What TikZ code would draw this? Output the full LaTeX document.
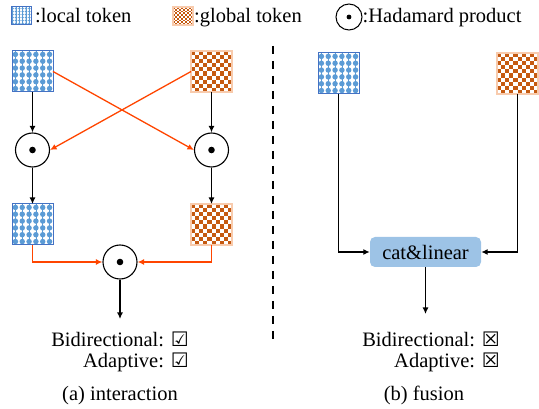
\documentclass[tikz,border=0pt]{standalone}
\usepackage{fontspec}
\setmainfont{Liberation Serif}
\newfontfamily\dejavu{DejaVu Sans}
\usetikzlibrary{arrows.meta}
\definecolor{locblue}{RGB}{68,114,196}
\definecolor{locdot}{RGB}{91,155,213}
\definecolor{globor}{RGB}{197,90,17}
\definecolor{globlight}{RGB}{248,203,173}
\definecolor{redarrow}{RGB}{255,69,0}
\definecolor{boxblue}{RGB}{157,195,230}
\newcommand\boxsym[1]{{\dejavu\fontsize{20}{20}\selectfont #1}}
% pattern of a local token: node name, cell width, cell height
\newcommand\locpattern[3]{%
  \begin{scope}
    \clip (#1.south west) rectangle (#1.north east);
    \begin{scope}[shift={(#1.north west)}, x=#2, y=-#3]
      \foreach \i in {0,...,5}{
        \draw[locdot, line width=0.5pt] (\i+0.5,0) -- (\i+0.5,6);
        \foreach \j in {0,...,5} \fill[locdot] (\i+0.5,\j+0.5) circle[radius=0.4];
      }
    \end{scope}
  \end{scope}
  \draw[locblue, line width=1pt] (#1.south west) rectangle (#1.north east);}
% pattern of a global token: node name, cell width, cell height
\newcommand\globpattern[3]{%
  \begin{scope}
    \clip (#1.south west) rectangle (#1.north east);
    \begin{scope}[shift={(#1.north west)}, x=#2, y=-#3]
      \foreach \i in {0,...,9}{
        \foreach \j in {0,2,...,8} \fill[globor] ({\i},{\j+mod(\i,2)}) rectangle ++(1,1);
      }
    \end{scope}
  \end{scope}
  \draw[globlight, line width=1.2pt] (#1.south west) rectangle (#1.north east);}
\begin{document}
\begin{tikzpicture}[x=1pt,y=-1pt, font=\rmfamily\fontsize{20.5}{24}\selectfont,
 tok/.style 2 args={fill=white, minimum width=#1, minimum height=#2, inner sep=0pt, outer sep=0pt},
 bigtok/.style={tok={41pt}{41pt}},
 hada/.style={circle, draw, line width=1.1pt, minimum size=34pt, inner sep=0pt},
 hadasmall/.style={circle, draw, line width=1pt, minimum size=26pt, inner sep=0pt},
 hdot/.style={fill=black},
 arr/.style={-{Latex[length=6.5pt,width=6pt]}, line width=1.3pt},
 redarr/.style={arr, draw=redarrow},
 catbox/.style={fill=boxblue, rounded corners=5pt, minimum width=111pt, minimum height=30pt, inner sep=0pt},
 txt/.style={inner sep=0pt}
]
\useasboundingbox (0,0) rectangle (539,409);

% legend
\node[tok={20pt}{18pt}] (legl) at (21,16) {};
\locpattern{legl}{3.33pt}{3pt}
\node[txt, anchor=base west] (legltext) at (35,23) {:local token};
\node[tok={20pt}{18pt}] (legg) at (183,16) {};
\globpattern{legg}{2pt}{1.8pt}
\node[txt, anchor=base west] (leggtext) at (194,23) {:global token};
\node[hadasmall] (legh) at (349,17) {};
\fill[hdot] (legh.center) circle (2.4pt);
\node[txt, anchor=base west] (leghtext) at (362.5,23) {:Hadamard product};

% left panel
\node[bigtok] (l1) at (32.5,71.5) {};
\locpattern{l1}{6.83pt}{6.83pt}
\node[bigtok] (g1) at (211.5,71.5) {};
\globpattern{g1}{4.1pt}{4.1pt}
\node[hada] (h1) at (32.5,150) {};
\node[hada] (h2) at (211.5,150) {};
\node[bigtok] (l2) at (32.5,224.5) {};
\locpattern{l2}{6.83pt}{6.83pt}
\node[bigtok] (g2) at (211.5,224.5) {};
\globpattern{g2}{4.1pt}{4.1pt}
\node[hada] (h3) at (120,262) {};
\foreach \n in {h1,h2,h3} \fill[hdot] (\n.center) circle (3.3pt);
\coordinate (o1) at (120,319);

\draw[arr] (l1.south) -- (h1.north);
\draw[arr] (g1.south) -- (h2.north);
\draw[redarr] (l1.east) -- (h2.west);
\draw[redarr] (g1.west) -- (h1.east);
\draw[arr] (h1.south) -- (l2.north);
\draw[arr] (h2.south) -- (g2.north);
\draw[redarr] (l2.south) |- (h3.west);
\draw[redarr] (g2.south) |- (h3.east);
\draw[arr] (h3.south) -- (o1);

\node[txt, anchor=base east] (bi1) at (189,346) {Bidirectional: \boxsym{☑}};
\node[txt, anchor=base east] (ad1) at (189,367) {Adaptive: \boxsym{☑}};
\node[txt, anchor=base] (cap1) at (120,400) {(a) interaction};

% divider
\coordinate (d1) at (273,46);
\coordinate (d2) at (273,345);
\draw[line width=2.2pt, dash pattern=on 8pt off 7pt] (d1) -- (d2);

% right panel
\node[bigtok] (l3) at (338.5,73.5) {};
\locpattern{l3}{6.83pt}{6.83pt}
\node[bigtok] (g3) at (517.5,73.5) {};
\globpattern{g3}{4.1pt}{4.1pt}
\node[catbox] (cat) at (425.5,252) {cat\&linear};
\coordinate (o2) at (425.5,314);
\draw[arr] (l3.south) |- (cat.west);
\draw[arr] (g3.south) |- (cat.east);
\draw[arr] (cat.south) -- (o2);

\node[txt, anchor=base east] (bi2) at (500,346) {Bidirectional: \boxsym{☒}};
\node[txt, anchor=base east] (ad2) at (500,367) {Adaptive: \boxsym{☒}};
\node[txt, anchor=base] (cap2) at (424,400) {(b) fusion};
\end{tikzpicture}
\end{document}
